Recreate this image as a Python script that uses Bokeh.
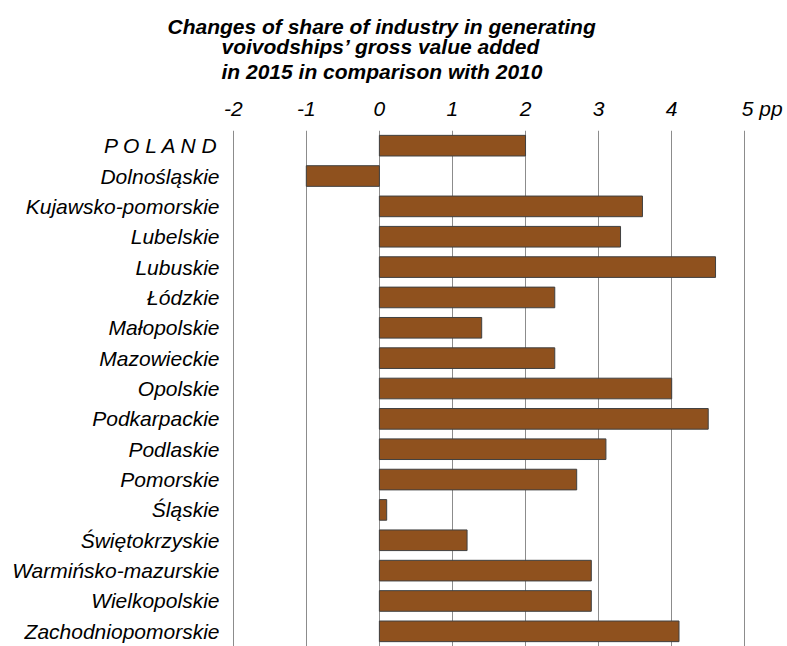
from bokeh.plotting import figure
from bokeh.models import FactorRange, FixedTicker, Title, ColumnDataSource
from bokeh.embed import file_html
from bokeh.resources import INLINE

regions = ["P O L A N D", "Dolnośląskie", "Kujawsko-pomorskie", "Lubelskie", "Lubuskie",
           "Łódzkie", "Małopolskie", "Mazowieckie", "Opolskie", "Podkarpackie",
           "Podlaskie", "Pomorskie", "Śląskie", "Świętokrzyskie",
           "Warmińsko-mazurskie", "Wielkopolskie", "Zachodniopomorskie"]
changes = [2.0, -1.0, 3.6, 3.3, 4.6, 2.4, 1.4, 2.4, 4.0, 4.5, 3.1, 2.7, 0.1, 1.2, 2.9, 2.9, 4.1]
ticks = [-2, -1, 0, 1, 2, 3, 4, 5]
tick_labels = ["-2", "-1", "0", "1", "2", "3", "4", "\u2007\u2007\u20075 pp"]
title_lines = ["Changes of share of industry in generating",
               "voivodships\u2019 gross value added",
               "in 2015 in comparison with 2010"]
title_offsets = [-65, -11, -11]
title_standoffs = [14, -23, 22]

FONT = "Liberation Sans"
W, H = 787, 646
FS = "21px"

p = figure(width=W, height=H, output_backend="svg", toolbar_location=None,
           y_range=FactorRange(factors=regions[::-1], range_padding=0),
           x_range=(-2.01, 5.01), x_axis_location="above",
           min_border_left=232, min_border_right=42, min_border_top=130,
           min_border_bottom=0)
p.outline_line_color = None
p.background_fill_color = "white"

src = ColumnDataSource(dict(y=regions, right=changes))
p.hbar(y="y", left=0, right="right", height=0.68, source=src,
       fill_color="#8F511E", line_color="#404040", line_width=1)

p.ygrid.grid_line_color = None
p.xgrid.grid_line_color = "#8c8c8c"
p.xgrid.ticker = FixedTicker(ticks=ticks)

xa = p.xaxis[0]
xa.ticker = FixedTicker(ticks=ticks)
xa.axis_line_color = None
xa.major_tick_line_color = None
xa.minor_tick_line_color = None
xa.major_tick_out = 0
xa.major_tick_in = 0
xa.minor_tick_out = 0
xa.major_label_text_font = FONT
xa.major_label_text_font_style = "italic"
xa.major_label_text_font_size = FS
xa.major_label_text_color = "black"
xa.major_label_standoff = 11
xa.major_label_overrides = {t: s for t, s in zip(ticks, tick_labels)}

ya = p.yaxis[0]
ya.axis_line_color = None
ya.major_tick_line_color = None
ya.minor_tick_line_color = None
ya.major_tick_out = 0
ya.major_tick_in = 0
ya.major_label_text_font = FONT
ya.major_label_text_font_style = "italic"
ya.major_label_text_font_size = FS
ya.major_label_text_color = "black"
ya.major_label_standoff = 13

for line, off, so in reversed(list(zip(title_lines, title_offsets, title_standoffs))):
    p.add_layout(Title(text=line, align="left", offset=off, standoff=so,
                       text_font=FONT, text_font_style="bold italic",
                       text_font_size=FS, text_color="black"), "above")

open("out.html", "w").write(file_html(p, INLINE))
